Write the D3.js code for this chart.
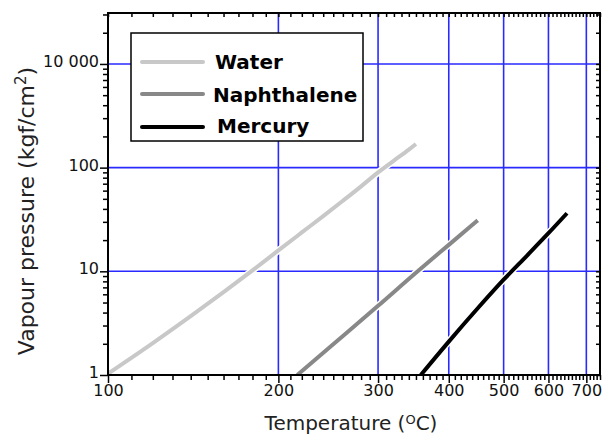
<!DOCTYPE html>
<html>
<head>
<meta charset="utf-8">
<script src="https://cdn.jsdelivr.net/npm/d3@7"></script>
<style>
body { margin: 0; background: #fff; }
svg { display: block; }
</style>
</head>
<body>
<div id="chart"></div>
<script>
// values (temperature in C, pressure in kgf/cm2)
let waterT = [100, 120, 140, 160, 180, 200, 220, 240, 260, 280, 300, 320, 340, 350];
let waterP = [1.03, 2.03, 3.69, 6.3, 10.2, 15.9, 23.7, 34.1, 47.9, 66, 90, 117, 149, 169];
let naphT = [216, 250, 300, 350, 400, 450];
let naphP = [1.0, 1.98, 4.65, 9.7, 18, 31];
let mercT = [357, 400, 450, 500, 550, 600, 647];
let mercP = [1.0, 2.1, 4.4, 8.3, 14.2, 23.3, 36.3];

let seriesNames = ["Water", "Naphthalene", "Mercury"];
let xTicks = [100, 200, 300, 400, 500, 600, 700];
let yTicks = [1, 10, 100, 1000];
let yTickLabels = ["1", "10", "100", "10 000"];

let colors = ["#c8c8c8", "#888888", "#000000"];
let series = [
  waterT.map((t, i) => [t, waterP[i]]),
  naphT.map((t, i) => [t, naphP[i]]),
  mercT.map((t, i) => [t, mercP[i]])
];

let width = 602, height = 437;
let pLeft = 108, pRight = 600, pTop = 13, pBottom = 375;

let svg = d3.select("#chart").append("svg")
  .attr("width", width)
  .attr("height", height);

let x = d3.scaleLog().domain([100, 740]).range([pLeft, pRight]);
let y = d3.scaleLog().domain([1, 3100]).range([pBottom, pTop]);

// minor tick positions
let xMinor = d3.range(110, 741, 10).filter(v => v % 100 != 0);
let yMinor = [];
[1, 10, 100, 1000].forEach(d => {
  for (let m = 2; m <= 9; m++) if (d * m <= 3100) yMinor.push(d * m);
});

// grid
let grid = svg.append("g").attr("stroke", "#2a2aff").attr("stroke-width", 1.6);
grid.selectAll(".vx").data(xTicks.slice(1)).enter().append("line")
  .attr("x1", d => x(d)).attr("x2", d => x(d))
  .attr("y1", pTop).attr("y2", pBottom);
grid.selectAll(".hy").data(yTicks.slice(1)).enter().append("line")
  .attr("x1", pLeft).attr("x2", pRight)
  .attr("y1", d => y(d)).attr("y2", d => y(d));

// curves
svg.append("clipPath").attr("id", "clip")
  .append("rect").attr("x", pLeft).attr("y", pTop)
  .attr("width", pRight - pLeft).attr("height", pBottom - pTop);

let line = d3.line()
  .x(d => x(d[0]))
  .y(d => y(d[1]))
  .curve(d3.curveMonotoneX);

let curves = svg.append("g").attr("clip-path", "url(#clip)");
series.forEach((s, i) => {
  curves.append("path").attr("d", line(s))
    .attr("fill", "none").attr("stroke", "#fff").attr("stroke-width", 7);
  curves.append("path").attr("d", line(s))
    .attr("fill", "none").attr("stroke", colors[i]).attr("stroke-width", 4);
});

// axes
let fontTick = "DejaVu Sans";

let xAxis = svg.append("g").attr("transform", "translate(0," + pBottom + ")")
  .call(d3.axisBottom(x).tickValues(xTicks).tickSize(8).tickFormat(d3.format("d")));
xAxis.select(".domain").remove();
xAxis.selectAll("text").attr("y", 10).attr("dy", "0.71em")
  .style("font-family", fontTick).style("font-size", "16px").attr("fill", "#111");
xAxis.selectAll("line").attr("stroke-width", 1.5);

let xMin = svg.append("g").attr("transform", "translate(0," + pBottom + ")")
  .call(d3.axisBottom(x).tickValues(xMinor).tickSize(5).tickFormat(""));
xMin.select(".domain").remove();
xMin.selectAll("line").attr("stroke-width", 1.5);

let xTop = svg.append("g").attr("transform", "translate(0," + pTop + ")")
  .call(d3.axisBottom(x).tickValues(xTicks.concat(xMinor)).tickSize(4).tickFormat(""));
xTop.select(".domain").remove();
xTop.selectAll("line").attr("stroke-width", 1.5);

let yAxis = svg.append("g").attr("transform", "translate(" + pLeft + ",0)")
  .call(d3.axisLeft(y).tickValues(yTicks).tickSize(8).tickPadding(1)
    .tickFormat((d, i) => yTickLabels[i]));
yAxis.select(".domain").remove();
yAxis.selectAll("text").attr("dy", "0.15em")
  .style("font-family", fontTick).style("font-size", "16px").attr("fill", "#111");
yAxis.selectAll("line").attr("stroke-width", 1.5);

let yMin = svg.append("g").attr("transform", "translate(" + pLeft + ",0)")
  .call(d3.axisLeft(y).tickValues(yMinor).tickSize(5).tickFormat(""));
yMin.select(".domain").remove();
yMin.selectAll("line").attr("stroke-width", 1.5);

let yRight = svg.append("g").attr("transform", "translate(" + pRight + ",0)")
  .call(d3.axisLeft(y).tickValues(yTicks.concat(yMinor)).tickSize(4).tickFormat(""));
yRight.select(".domain").remove();
yRight.selectAll("line").attr("stroke-width", 1.5);

// frame
svg.append("rect")
  .attr("x", pLeft).attr("y", pTop)
  .attr("width", pRight - pLeft).attr("height", pBottom - pTop)
  .attr("fill", "none").attr("stroke", "#000").attr("stroke-width", 2);

// legend
let legend = svg.append("g");
legend.append("rect")
  .attr("x", 131).attr("y", 33).attr("width", 232).attr("height", 108)
  .attr("fill", "#fff").attr("stroke", "#000").attr("stroke-width", 1.5);
let legY = [62, 94, 127];
let legTextX = [215, 213, 217];
let legTextY = [69, 102, 133];
seriesNames.forEach((n, i) => {
  legend.append("line")
    .attr("x1", 142).attr("x2", 203)
    .attr("y1", legY[i]).attr("y2", legY[i])
    .attr("stroke", colors[i]).attr("stroke-width", 4)
    .attr("stroke-linecap", "round");
  legend.append("text")
    .attr("x", legTextX[i]).attr("y", legTextY[i])
    .style("font-family", "DejaVu Sans").style("font-weight", "bold")
    .style("font-size", "20px").attr("fill", "#000")
    .text(n);
});

// axis titles
let xTitle = svg.append("text")
  .attr("x", 351).attr("y", 430)
  .attr("text-anchor", "middle")
  .style("font-family", "DejaVu Sans").style("font-size", "20px").attr("fill", "#222");
xTitle.append("tspan").text("Temperature (");
xTitle.append("tspan").attr("dy", -6).style("font-size", "13px").text("O");
xTitle.append("tspan").attr("dy", 6).text("C)");

let yTitle = svg.append("text")
  .attr("transform", "translate(34,211) rotate(-90)")
  .attr("text-anchor", "middle")
  .style("font-family", "DejaVu Sans").style("font-size", "22px").attr("fill", "#222");
yTitle.append("tspan").text("Vapour pressure (kgf/cm");
yTitle.append("tspan").attr("dy", -8).style("font-size", "15px").text("2");
yTitle.append("tspan").attr("dy", 8).text(")");
</script>
</body>
</html>
